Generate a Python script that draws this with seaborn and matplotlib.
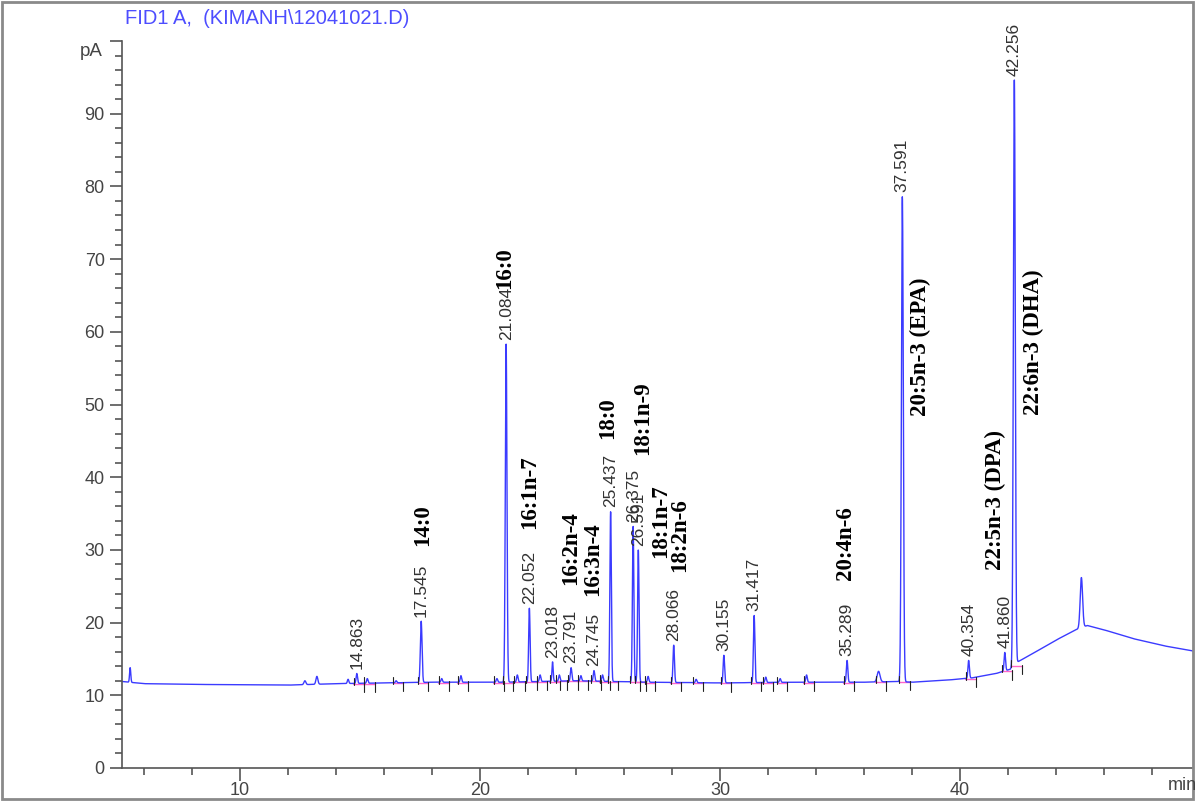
import numpy as np
import pandas as pd
import seaborn as sns
import matplotlib
matplotlib.use("Agg")
from matplotlib import pyplot as plt
from matplotlib.patches import Rectangle

# baseline of the FID trace (min, pA)
base_t = [5.08, 6.0, 8.0, 12.0, 14.0, 16.0, 18.0, 21.0, 24.0, 27.0, 30.0, 33.0, 36.0,
          37.4, 38.0, 39.5, 40.5, 41.5, 42.1, 42.4, 43.0, 44.0, 44.8, 45.3, 46.0,
          47.2, 48.5, 49.7]
base_y = [11.9, 11.6, 11.5, 11.4, 11.6, 11.7, 11.8, 11.8, 12.0, 11.8, 11.7, 11.8, 11.8,
          11.9, 11.8, 12.1, 12.4, 13.0, 13.6, 14.6, 15.7, 17.6, 19.0, 19.6, 19.0,
          17.8, 16.8, 16.1]

# peaks: retention time, apex (pA), width (min)
peak_t = [5.42, 12.7, 13.2, 14.5, 14.863, 15.3, 16.5, 17.545, 18.4, 19.2, 20.7,
          21.084, 21.55, 22.052, 22.5, 23.018, 23.3, 23.791, 24.2, 24.745, 25.1,
          25.437, 26.375, 26.591, 27.0, 28.066, 29.0, 30.155, 31.417, 31.9, 32.5,
          33.6, 35.289, 36.6, 37.591, 40.354, 41.860, 42.256, 45.05]
peak_h = [13.8, 12.0, 12.6, 12.2, 13.0, 12.3, 12.0, 20.2, 12.3, 12.7, 12.3,
          58.3, 12.8, 22.0, 12.8, 14.6, 12.8, 13.8, 12.7, 13.4, 12.8,
          35.3, 33.3, 30.0, 12.6, 16.9, 12.2, 15.5, 21.0, 12.5, 12.3,
          12.8, 14.8, 13.3, 78.6, 14.8, 15.9, 94.8, 26.2]
peak_w = [0.025, 0.04, 0.04, 0.03, 0.03, 0.03, 0.03, 0.035, 0.03, 0.03, 0.03,
          0.035, 0.03, 0.03, 0.03, 0.025, 0.03, 0.03, 0.03, 0.03, 0.03,
          0.03, 0.03, 0.03, 0.03, 0.03, 0.03, 0.03, 0.03, 0.03, 0.03,
          0.03, 0.03, 0.06, 0.04, 0.03, 0.03, 0.04, 0.05]

# labelled retention times
rt_labels = ["14.863", "17.545", "21.084", "22.052", "23.018", "23.791", "24.745",
             "25.437", "26.375", "26.591", "28.066", "30.155", "31.417", "35.289",
             "37.591", "40.354", "41.860", "42.256"]

# fatty acid names and where they sit
fa_names = ["14:0", "16:0", "16:1n-7", "16:2n-4", "16:3n-4", "18:0", "18:1n-9",
            "18:1n-7", "18:2n-6", "20:4n-6", "20:5n-3 (EPA)", "22:5n-3 (DPA)",
            "22:6n-3 (DHA)"]
fa_x = [17.6, 21.04, 22.08, 23.75, 24.67, 25.33, 26.75, 27.5, 28.33, 35.21, 38.33, 41.46, 43.04]
fa_y = [33.4, 68.8, 37.9, 30.2, 28.7, 48.1, 48.1, 34.0, 32.1, 31.0, 58.0, 36.8, 58.6]

t = np.linspace(5.08, 49.7, 8000)
base = np.interp(t, base_t, base_y)
sig = base.copy()
for pt, ph, pw in zip(peak_t, peak_h, peak_w):
    sig += (ph - np.interp(pt, base_t, base_y)) * np.exp(-0.5 * ((t - pt) / pw) ** 2)
df = pd.DataFrame({"time": t, "signal": sig})

sns.set_style("ticks")
plt.rcParams["font.family"] = ["Liberation Sans", "DejaVu Sans"]

fig = plt.figure(figsize=(11.98, 8.01), dpi=100)
ax = fig.add_axes([122 / 1198, 1 - 768 / 801, (1193 - 122) / 1198, (768 - 41) / 801])

sns.lineplot(data=df, x="time", y="signal", ax=ax, color="#3b3bff", lw=1.0,
             estimator=None, sort=False)

# integration baselines and tick marks
for pt in peak_t[4:38]:
    b = np.interp(pt, base_t, base_y)
    ax.plot([pt - 0.15, pt + 0.3], [b - 0.05, b - 0.05], color="#ff66cc", lw=1.0, zorder=1)
    ax.plot([pt - 0.12, pt - 0.12], [b - 0.2, b + 0.8], color="#222222", lw=0.8)
    ax.plot([pt + 0.3, pt + 0.3], [b - 1.2, b + 0.1], color="#222222", lw=0.8)

for lab in rt_labels:
    rt = float(lab)
    i = np.argmin(np.abs(t - rt))
    top = sig[max(i - 10, 0):i + 10].max()
    ax.text(rt, top + 0.6, lab, rotation=90, ha="center", va="bottom", fontsize=12.5,
            color="#333333")

for name, x, y in zip(fa_names, fa_x, fa_y):
    ax.text(x, y, name, rotation=90, ha="center", va="center", fontsize=16.5,
            fontweight="bold", family="Liberation Serif", color="black")

ax.set_xlim(5.08, 49.7)
ax.set_ylim(0, 100)
ax.set_xticks([10, 20, 30, 40])
ax.set_xticks(np.arange(6, 50, 2), minor=True)
ax.set_yticks(np.arange(0, 101, 10))
ax.set_yticklabels([str(v) for v in range(0, 100, 10)] + [""])
ax.set_yticks(np.arange(0, 101, 2), minor=True)
ax.tick_params(which="major", length=9, width=1.2, color="#555555", labelsize=13,
               labelcolor="#444444")
ax.tick_params(which="minor", length=5, width=1.2, color="#555555")
ax.tick_params(axis="x", pad=1)
ax.set_xlabel("")
ax.set_ylabel("")
for s in ["top", "right"]:
    ax.spines[s].set_visible(False)
for s in ["left", "bottom"]:
    ax.spines[s].set_color("#555555")
    ax.spines[s].set_linewidth(1.2)

fig.text(91 / 1198, 1 - 52 / 801, "pA", ha="center", va="center",
         fontsize=13.5, color="#444444")
fig.text(1182 / 1198, 1 - 785 / 801, "min", ha="center", va="center",
         fontsize=13, color="#444444")
fig.text(125 / 1198, 1 - 18 / 801, "FID1 A,  (KIMANH\\12041021.D)", ha="left",
         va="center", fontsize=14.5, color="#4d4dff")
fig.patches.append(Rectangle((0.002, 0.003), 0.994, 0.994, transform=fig.transFigure,
                             fill=False, edgecolor="#8a8a8a", lw=2))

fig.savefig("out.png", dpi=100)
